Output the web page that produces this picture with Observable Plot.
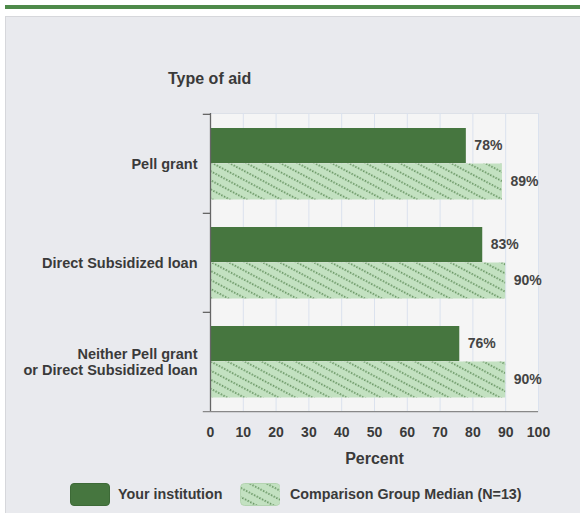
<!DOCTYPE html>
<html><head><meta charset="utf-8">
<script src="https://cdn.jsdelivr.net/npm/d3@7"></script>
<script src="https://cdn.jsdelivr.net/npm/@observablehq/plot@0.6"></script>
<style>
body{margin:0;background:#fff;font-family:"Liberation Sans",Arial,sans-serif;overflow:hidden;}
#topbar{position:absolute;left:5px;top:5px;width:575px;height:4px;background:#4e8a4a;}
#panel{position:absolute;left:5px;top:16px;width:580px;height:500px;background:#e9eaee;border:1px solid #d6d7db;}
#title{position:absolute;left:168px;top:70px;font-weight:bold;font-size:16px;color:#3a3a3a;}
#chart{position:absolute;left:0;top:100px;}
#legend{position:absolute;left:0;top:483px;width:580px;height:24px;font-size:14.3px;font-weight:bold;color:#3a3a3a;}
.sw{position:absolute;top:0;width:40px;height:23px;border-radius:4px;}
.lt{position:absolute;top:3px;}
</style></head>
<body>
<div id="topbar"></div>
<div id="panel"></div>
<div id="title">Type of aid</div>
<div id="chart"></div>
<div id="legend">
  <div class="sw" style="left:70px;background:#46763f;border:1px solid #3d6a37;box-sizing:border-box"></div>
  <div class="lt" style="left:118px">Your institution</div>
  <svg class="sw" style="left:240px" width="41" height="23"><defs>
    <pattern id="hatchL" width="9" height="8" patternUnits="userSpaceOnUse" patternTransform="rotate(28)">
      <rect width="9" height="8" fill="#c3e1c1"/>
      <line x1="0" y1="4" x2="9" y2="4" stroke="#4f8049" stroke-width="1.5" stroke-dasharray="1.4 1.6"/>
    </pattern></defs>
    <rect x="0.5" y="0.5" width="40" height="22" rx="4" fill="url(#hatchL)" stroke="#b4d4b1"/></svg>
  <div class="lt" style="left:290px">Comparison Group Median (N=13)</div>
</div>
<script>
const categories = ["Pell grant","Direct Subsidized loan","Neither Pell grant or Direct Subsidized loan"];
const categoryLabels = ["Pell grant","Direct Subsidized loan","Neither Pell grant\nor Direct Subsidized loan"];
const seriesNames = ["Your institution","Comparison Group Median (N=13)"];
const institutionValues = [78, 83, 76];
const comparisonValues = [89, 90, 90];
const xTicks = [0,10,20,30,40,50,60,70,80,90,100];

const inst = categories.map((c,i)=>({category:c, series:seriesNames[0], value:institutionValues[i]}));
const comp = categories.map((c,i)=>({category:c, series:seriesNames[1], value:comparisonValues[i]}));
const labelOf = new Map(categories.map((c,i)=>[c, categoryLabels[i]]));
const bw = 298/3;

const svg = Plot.plot({
  width: 580, height: 370,
  marginTop: 13, marginBottom: 59, marginLeft: 210, marginRight: 42,
  style: {background: "transparent", color: "#3a3a3a", fontFamily: "Liberation Sans, Arial, sans-serif"},
  x: {domain: [0, 100]},
  y: {domain: categories, padding: 0},
  marks: [
    Plot.frame({fill: "#f5f5f5", stroke: "#dde1e8"}),
    Plot.gridX(xTicks, {stroke: "#dbe2ee", strokeOpacity: 1}),
    Plot.barX(inst, {y: "category", x: "value", fill: "#46763f", insetTop: 14, insetBottom: bw - 49.5}),
    Plot.barX(comp, {y: "category", x: "value", fill: "url(#hatch)", insetTop: 49.5, insetBottom: 13.5}),
    Plot.text(inst, {y: "category", x: "value", text: d => d.value + "%", dx: 8, dy: -18, textAnchor: "start", fontSize: 14, fontWeight: "bold", fill: "#444"}),
    Plot.text(comp, {y: "category", x: "value", text: d => d.value + "%", dx: 8, dy: 18, textAnchor: "start", fontSize: 14, fontWeight: "bold", fill: "#444"}),
    Plot.ruleY(categories, {y: d => d, dy: -bw/2, x1: -2.2, x2: 0, stroke: "#666", strokeWidth: 1.3}),
    Plot.ruleY(categories.slice(-1), {y: d => d, dy: bw/2, x1: -2.2, x2: 100, stroke: "#888", strokeWidth: 1.3}),
    Plot.ruleX([0], {stroke: "#666", strokeWidth: 1.3}),
    Plot.axisX(xTicks, {tickSize: 0, tickPadding: 16, fontSize: 14, fontWeight: "bold", label: null}),
    Plot.axisY({tickSize: 0, tickPadding: 13, fontSize: 14.5, fontWeight: "bold", label: null, tickFormat: d => labelOf.get(d), lineHeight: 1.05}),
    Plot.text(["Percent"], {frameAnchor: "bottom", dy: 52, fontSize: 16, fontWeight: "bold", fill: "#3a3a3a"})
  ]
});
const defs = document.createElementNS("http://www.w3.org/2000/svg","defs");
defs.innerHTML = `<pattern id="hatch" width="9" height="8" patternUnits="userSpaceOnUse" patternTransform="rotate(28)">
  <rect width="9" height="8" fill="#c3e1c1"/>
  <line x1="0" y1="4" x2="9" y2="4" stroke="#4f8049" stroke-width="1.5" stroke-dasharray="1.4 1.6"/></pattern>`;
svg.insertBefore(defs, svg.firstChild);
document.getElementById("chart").appendChild(svg);
</script>
</body></html>
